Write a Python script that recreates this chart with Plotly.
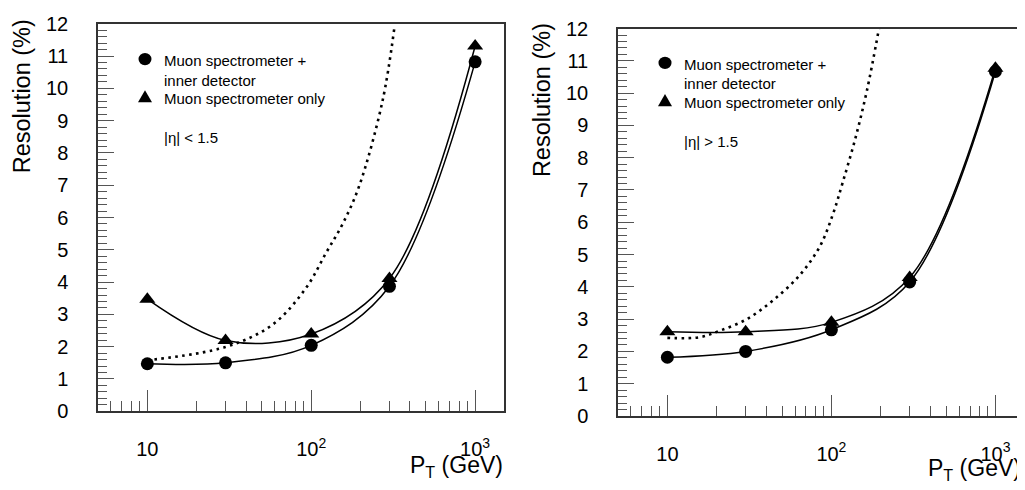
import math
import plotly.graph_objects as go

# ---------------- data ----------------
pt = [10, 30, 100, 300, 1000]

left_combined = [1.47, 1.50, 2.04, 3.87, 10.82]
left_ms_only = [3.47, 2.19, 2.39, 4.11, 11.31]
left_id_pt = [10, 30, 58, 93, 123, 155, 196, 272, 321]
left_id_res = [1.58, 1.99, 2.68, 3.82, 4.90, 5.79, 6.97, 9.60, 11.85]

right_combined = [1.82, 2.00, 2.67, 4.15, 10.67]
right_ms_only = [2.61, 2.61, 2.90, 4.29, 10.77]
right_id_pt = [10, 15.7, 20.8, 30.3, 44, 64, 85, 102, 117, 140, 165, 195]
right_id_res = [2.42, 2.44, 2.64, 2.99, 3.58, 4.36, 5.25, 6.24, 7.22, 8.6, 10.1, 12.0]

x_major = [10, 100, 1000]
x_major_text = ["10", "10<sup>2</sup>", "10<sup>3</sup>"]
x_minor = [5, 6, 7, 8, 9] + [d * 10 for d in range(2, 10)] + [d * 100 for d in range(2, 10)]

legend_combined = "Muon spectrometer +"
legend_combined2 = "inner detector"
legend_ms = "Muon spectrometer only"
eta_left = "|η| &lt; 1.5"
eta_right = "|η| &gt; 1.5"

# ---------------- layout helpers ----------------
# the page body keeps its default 8px margin, so the figure is made
# smaller and all page-pixel positions below are shifted by that offset
OX, OY = 8, 8
W, H = 1025 - OX, 490 - OY
FONT = "Liberation Sans, Arial, Helvetica, sans-serif"


def px(x):
    return (x - OX) / W


def py(y):
    return 1 - (y - OY) / H


fig = go.Figure()

line_style = dict(color="black", width=1.5, shape="spline", smoothing=1.0)
dot_style = dict(color="black", width=2.6, dash="2.6px,4.4px", shape="spline", smoothing=1.0)

panels = [
    ("x", "y", left_combined, left_ms_only, left_id_pt, left_id_res),
    ("x2", "y2", right_combined, right_ms_only, right_id_pt, right_id_res),
]
for xa, ya, comb, ms, idp, idr in panels:
    fig.add_trace(go.Scatter(x=idp, y=idr, mode="lines", line=dot_style,
                             xaxis=xa, yaxis=ya, showlegend=False, hoverinfo="skip"))
    fig.add_trace(go.Scatter(x=pt, y=ms, mode="lines+markers", line=line_style,
                             marker=dict(symbol="triangle-up", size=14, color="black"),
                             xaxis=xa, yaxis=ya, showlegend=False))
    fig.add_trace(go.Scatter(x=pt, y=comb, mode="lines+markers", line=line_style,
                             marker=dict(symbol="circle", size=13, color="black"),
                             xaxis=xa, yaxis=ya, showlegend=False))


def xaxis_cfg(domain, xmax):
    return dict(
        domain=domain, type="log", range=[math.log10(5), math.log10(xmax)],
        tickmode="array", tickvals=x_major, ticktext=x_major_text,
        ticks="inside", ticklen=21, tickwidth=1.3, tickcolor="#555",
        showline=True, linecolor="#333", linewidth=1.5, mirror=True,
        showgrid=False, zeroline=False,
        tickfont=dict(family=FONT, size=20, color="black"),
        ticklabelstandoff=19, ticklabeloverflow="allow",
        minor=dict(tickmode="array", tickvals=x_minor, ticks="inside", ticklen=10,
                   tickwidth=1.3, tickcolor="#555", showgrid=False),
    )


def yaxis_cfg(domain):
    return dict(
        domain=domain, range=[0, 12], tick0=0, dtick=1,
        ticks="inside", ticklen=16, tickwidth=1.3, tickcolor="#555",
        showline=True, linecolor="#333", linewidth=1.5, mirror=True,
        showgrid=False, zeroline=False,
        tickfont=dict(family=FONT, size=20, color="black"),
        ticklabelstandoff=24, ticklabeloverflow="allow",
        minor=dict(tick0=0, dtick=0.2, ticks="inside", ticklen=9,
                   tickwidth=1.2, tickcolor="#555", showgrid=False),
    )


fig.update_layout(
    width=W, height=H,
    margin=dict(l=0, r=0, t=0, b=0),
    paper_bgcolor="white", plot_bgcolor="white",
    font=dict(family=FONT, color="black"),
    showlegend=False,
    xaxis=dict(xaxis_cfg([px(98), px(504)], 1500), anchor="y"),
    yaxis=dict(yaxis_cfg([py(419), py(13)]), anchor="x"),
    xaxis2=dict(xaxis_cfg([px(618), px(1021)], 1432), anchor="y2"),
    yaxis2=dict(yaxis_cfg([py(424), py(18)]), anchor="x2"),
)

annotations = []
shapes = []


def text(x, y, s, size, xanchor="left", yanchor="middle", angle=0):
    annotations.append(dict(x=px(x), y=py(y), xref="paper", yref="paper", text=s,
                            showarrow=False, xanchor=xanchor, yanchor=yanchor,
                            textangle=angle, font=dict(family=FONT, size=size, color="black")))


def circle(cx, cy, d):
    shapes.append(dict(type="circle", xref="paper", yref="paper",
                       x0=px(cx - d / 2), x1=px(cx + d / 2), y0=py(cy + d / 2), y1=py(cy - d / 2),
                       fillcolor="black", line=dict(width=0)))


def triangle(cx, cy, s):
    h = s * 0.9
    path = (f"M {px(cx - s / 2)} {py(cy + h / 2)} L {px(cx + s / 2)} {py(cy + h / 2)} "
            f"L {px(cx)} {py(cy - h / 2)} Z")
    shapes.append(dict(type="path", xref="paper", yref="paper", path=path,
                       fillcolor="black", line=dict(width=0)))


for dx, dy, eta in [(0, 0, eta_left), (520, 4, eta_right)]:
    circle(145 + dx, 50 + dy, 13)
    triangle(145 + dx, 89 + dy, 14)
    text(162 + dx, 52 + dy, legend_combined, 15)
    text(162 + dx, 72 + dy, legend_combined2, 15)
    text(162 + dx, 91 + dy, legend_ms, 15)
    text(162 + dx, 132 + dy, eta, 15)

# axis titles
text(22, 89, "Resolution (%)", 23.5, xanchor="center", yanchor="middle", angle=-90)
text(542, 93, "Resolution (%)", 23.5, xanchor="center", yanchor="middle", angle=-90)
text(505, 477, "P<sub>T</sub> (GeV)", 23, xanchor="right", yanchor="middle")
text(1023, 480, "P<sub>T</sub> (GeV)", 23, xanchor="right", yanchor="middle")

fig.update_layout(annotations=annotations, shapes=shapes)

fig.write_html("out.html", config={"displayModeBar": False})
